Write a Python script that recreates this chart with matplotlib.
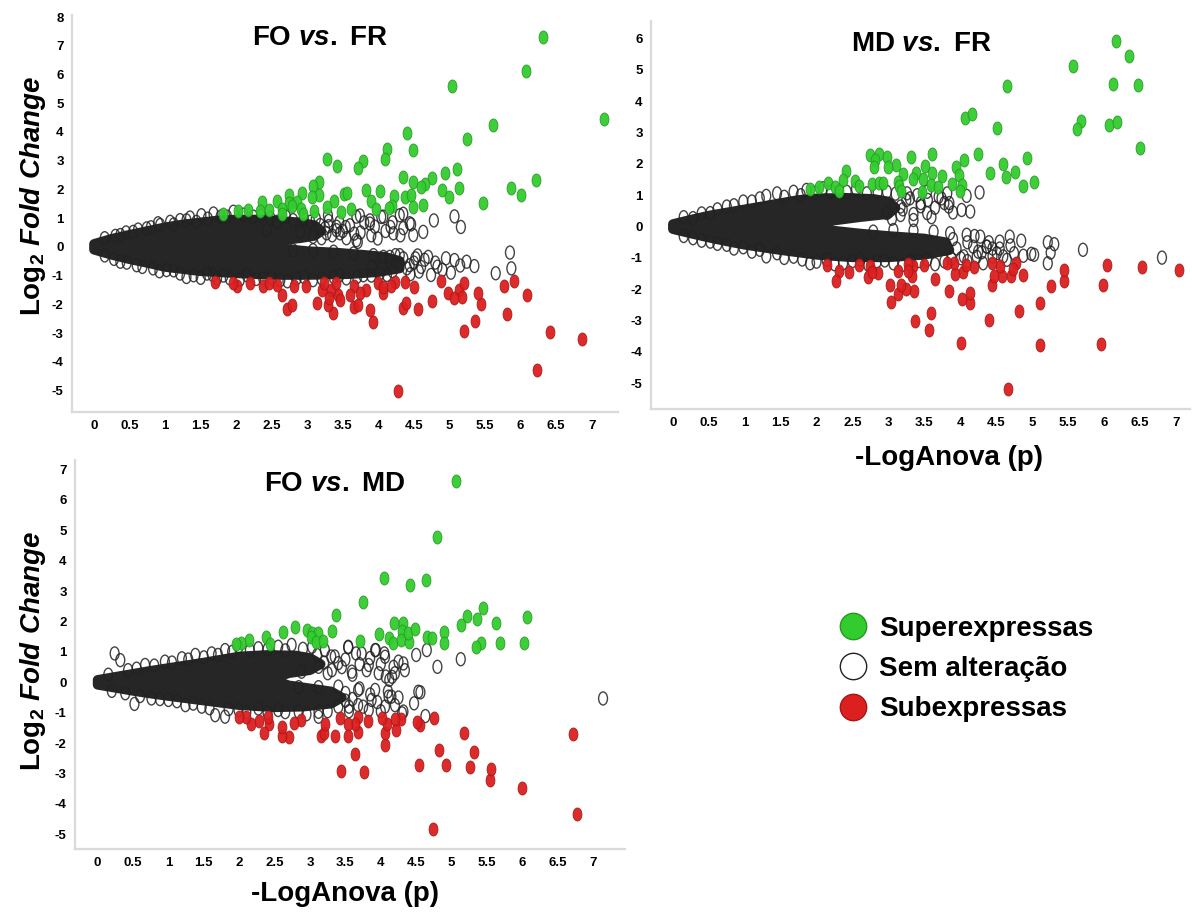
"""Volcano-style plots: -log ANOVA p vs log2 fold change for the three diet comparisons."""

import matplotlib
matplotlib.use("Agg")
import matplotlib.pyplot as plt
import matplotlib.ticker as ticker
from matplotlib.lines import Line2D
from matplotlib.markers import MarkerStyle
from matplotlib.path import Path
from matplotlib.transforms import Affine2D

plt.rcParams["font.family"] = ["Liberation Sans", "DejaVu Sans"]
plt.rcParams["axes.unicode_minus"] = False
plt.rcParams["mathtext.fontset"] = "custom"
plt.rcParams["mathtext.rm"] = "Liberation Sans:bold"
plt.rcParams["mathtext.bf"] = "Liberation Sans:bold"
plt.rcParams["mathtext.it"] = "Liberation Sans:italic:bold"
plt.rcParams["mathtext.bfit"] = "Liberation Sans:italic:bold"

# ---------------------------------------------------------------------------
# Data  (x = -log ANOVA p, y = log2 fold change)
# ---------------------------------------------------------------------------

# FO vs. FR
FO_FR_UP = [
    (6.31, 7.29), (6.07, 6.11), (5.03, 5.61), (7.18, 4.44), (5.61, 4.24), (4.40, 3.95),
    (5.24, 3.74), (4.48, 3.38), (4.12, 3.39), (4.09, 3.05), (3.28, 3.06), (3.42, 2.81),
    (3.78, 3.00), (3.71, 2.76), (5.10, 2.71), (4.93, 2.58), (4.76, 2.41), (4.35, 2.42),
    (6.22, 2.34), (3.16, 2.27), (3.08, 2.12), (4.48, 2.25), (4.66, 2.20), (4.60, 2.07),
    (5.13, 2.06), (4.89, 1.97), (5.86, 2.06), (4.02, 1.94), (3.82, 1.98), (4.22, 1.76),
    (4.38, 1.73), (4.46, 1.82), (6.00, 1.81), (4.99, 1.73), (3.52, 1.84), (3.56, 1.88),
    (3.38, 1.61), (3.17, 1.81), (3.06, 1.73), (2.92, 1.87), (2.74, 1.81), (2.58, 1.61),
    (2.36, 1.56), (2.86, 1.56), (2.74, 1.52), (3.89, 1.59), (5.47, 1.54), (4.63, 1.46),
    (4.48, 1.38), (4.19, 1.43), (4.15, 1.36), (3.62, 1.31), (3.96, 1.32), (3.28, 1.38),
    (3.09, 1.24), (2.91, 1.32), (2.79, 1.43), (2.64, 1.32), (2.46, 1.27), (2.34, 1.24),
    (2.16, 1.27), (2.03, 1.24), (1.81, 1.15), (3.48, 1.20), (2.94, 1.15), (2.64, 1.15),
]
FO_FR_DOWN = [
    (4.27, -5.03), (6.23, -4.29), (6.86, -3.20), (6.42, -2.96), (5.21, -2.94), (5.36, -2.59),
    (5.81, -2.34), (3.92, -2.60), (3.88, -2.19), (3.36, -2.30), (3.29, -2.02), (3.66, -2.10),
    (3.71, -2.04), (4.35, -2.14), (4.39, -1.96), (4.56, -2.17), (4.75, -1.90), (5.45, -2.00),
    (2.72, -2.15), (2.79, -2.02), (3.14, -1.94), (2.65, -1.67), (6.09, -1.67), (5.40, -1.61),
    (4.98, -1.60), (5.13, -1.50), (5.18, -1.74), (5.06, -1.79), (5.21, -1.27), (5.77, -1.36),
    (5.91, -1.18), (4.88, -1.19), (4.50, -1.41), (4.23, -1.24), (4.38, -1.21), (3.99, -1.27),
    (4.07, -1.61), (4.06, -1.41), (3.82, -1.52), (3.66, -1.38), (3.60, -1.67), (3.74, -1.61),
    (3.43, -1.67), (3.34, -1.50), (3.21, -1.50), (3.24, -1.27), (3.41, -1.27), (2.98, -1.36),
    (2.81, -1.35), (2.57, -1.32), (2.38, -1.36), (2.20, -1.27), (2.01, -1.36), (1.70, -1.23),
    (1.96, -1.27), (2.46, -1.27), (3.46, -1.84), (3.31, -1.79), (4.18, -1.38),
]
FO_FR_NS = [
    # sparse outer points
    (5.07, 1.06), (5.16, 0.69), (4.78, 0.92), (4.63, 0.52), (4.46, 0.78), (4.31, 0.40),
    (4.35, 1.15), (4.17, 0.69), (4.04, 1.04), (3.99, 0.29), (3.88, 0.92), (3.71, 0.17),
    (3.66, 0.46), (3.74, 1.09), (3.54, 0.69), (3.41, 0.58), (3.29, 1.09),
    (5.85, -0.20), (5.87, -0.75), (5.65, -0.92), (5.35, -0.67), (5.24, -0.52), (5.02, -0.90),
    (5.07, -0.46), (4.83, -0.69), (4.70, -0.35), (4.52, -0.40), (4.30, -0.58), (4.24, -0.29),
    (4.07, -0.35), (3.91, -0.69), (4.74, -0.98), (4.57, -0.86),
    # edge of the cloud
    (1.51, 1.10), (1.68, 1.16), (1.87, 1.05), (1.96, 1.22), (2.24, 1.05), (2.57, 0.87),
    (2.80, 0.93), (3.04, 0.87), (3.18, 0.76), (3.41, 0.70), (3.46, 0.47), (3.69, 0.23),
    (3.69, 1.05), (3.88, 0.81), (4.07, 1.05), (4.21, 0.47), (4.30, 1.10), (4.44, 0.82),
    (4.49, 0.41), (1.21, 0.93), (1.07, 0.87), (0.93, 0.76), (0.74, 0.64), (0.55, 0.52),
    (0.37, 0.41), (1.44, 0.87), (2.43, 0.58), (2.90, 0.52), (3.08, 0.35), (3.27, 0.47),
    (0.37, -0.52), (0.60, -0.64), (0.83, -0.75), (1.02, -0.81), (1.21, -0.93), (1.40, -0.99),
    (1.59, -0.93), (1.73, -1.10), (1.91, -1.10), (2.15, -0.99), (2.38, -1.10), (2.62, -1.16),
    (2.85, -1.10), (3.08, -1.16), (3.37, -1.05), (3.55, -1.10), (3.79, -0.99), (4.02, -0.93),
    (4.16, -0.35), (4.30, -0.29), (4.44, -0.64), (3.93, -0.29), (3.65, -0.23), (3.37, -0.17),
    (3.08, -0.12), (2.80, -0.12),
    (0.15, 0.30), (0.30, 0.38), (0.45, 0.50), (0.62, 0.60), (0.80, 0.68), (0.90, 0.82),
    (1.12, 0.78), (1.30, 0.92), (1.35, 1.02), (1.60, 0.98), (1.78, 1.05), (2.10, 1.12),
    (2.35, 1.08), (2.48, 1.00), (2.70, 1.05), (2.95, 0.98), (3.12, 0.98), (3.30, 0.72),
    (0.15, -0.30), (0.28, -0.42), (0.46, -0.55), (0.68, -0.70), (0.92, -0.85), (1.12, -0.82),
    (1.30, -1.05), (1.50, -1.08), (1.67, -0.98), (1.82, -1.00), (2.05, -1.15), (2.28, -1.12),
    (2.50, -1.08), (2.72, -1.20), (2.95, -1.05), (3.20, -1.10), (3.45, -1.00), (3.70, -1.05),
    (3.90, -1.00), (4.12, -0.98), (4.45, -0.95), (4.55, -0.30),
    # thinner parts of the two bands
    (3.30, 0.90), (3.35, 0.40), (3.45, 0.85), (3.50, 0.55), (3.55, 0.30), (3.60, 0.75),
    (3.75, 0.50), (3.80, 0.85), (3.90, 0.40), (3.95, 0.70), (4.10, 0.55), (4.20, 0.85),
    (4.35, 0.65), (3.25, 0.65), (3.20, 0.30),
    (4.35, -0.40), (4.40, -0.75), (4.50, -0.55), (4.60, -0.70), (4.65, -0.45), (4.80, -0.55),
    (4.90, -0.80), (4.95, -0.40), (5.15, -0.65), (4.20, -0.85), (4.25, -0.55), (4.05, -0.70),
]
# outline of the saturated, fully overlapped part of the cloud
FO_FR_CORE = [
    (0.0, 0.10), (0.25, 0.28), (0.5, 0.42), (0.75, 0.55), (1.0, 0.68), (1.25, 0.78),
    (1.5, 0.85), (1.75, 0.92), (2.0, 0.95), (2.3, 0.95), (2.6, 0.90), (2.9, 0.85),
    (3.1, 0.75), (3.2, 0.55), (3.1, 0.38), (2.9, 0.30), (2.6, 0.22), (2.4, 0.15),
    (2.6, -0.05), (3.0, -0.15), (3.4, -0.20), (3.8, -0.28), (4.1, -0.35), (4.3, -0.50),
    (4.3, -0.75), (4.0, -0.88), (3.6, -0.95), (3.0, -0.98), (2.5, -0.98), (2.0, -0.92),
    (1.5, -0.85), (1.0, -0.70), (0.75, -0.56), (0.5, -0.43), (0.25, -0.28), (0.0, -0.10),
]

# MD vs. FR
MD_FR_UP = [
    (6.17, 5.92), (6.35, 5.44), (5.57, 5.14), (4.65, 4.49), (6.13, 4.56), (6.47, 4.51),
    (4.07, 3.48), (4.17, 3.58), (4.51, 3.15), (5.68, 3.37), (5.62, 3.10), (6.07, 3.23),
    (6.19, 3.34), (6.51, 2.52), (4.25, 2.33), (3.61, 2.31), (3.32, 2.23), (2.75, 2.28),
    (2.87, 2.31), (2.98, 2.23), (2.81, 2.14), (4.06, 2.14), (4.93, 2.20), (4.59, 1.99),
    (3.10, 1.96), (2.99, 1.91), (2.80, 1.91), (3.51, 1.94), (3.94, 1.89), (2.41, 1.78),
    (4.77, 1.75), (4.41, 1.72), (3.38, 1.72), (3.20, 1.68), (3.61, 1.72), (3.74, 1.61),
    (3.99, 1.64), (4.64, 1.57), (2.37, 1.48), (2.53, 1.46), (3.14, 1.43), (3.35, 1.52),
    (3.48, 1.51), (5.03, 1.43), (2.16, 1.40), (2.77, 1.36), (2.87, 1.40), (2.93, 1.40),
    (2.59, 1.29), (3.15, 1.29), (3.59, 1.33), (3.69, 1.27), (3.89, 1.36), (4.02, 1.33),
    (4.87, 1.29), (2.26, 1.25), (2.03, 1.27), (1.91, 1.20), (2.31, 1.15), (4.00, 1.15),
    (3.18, 1.15), (3.47, 1.11),
]
MD_FR_DOWN = [
    (4.67, -5.18), (4.01, -3.71), (5.11, -3.79), (5.96, -3.76), (3.57, -3.29), (3.37, -3.02),
    (3.59, -2.76), (4.40, -2.97), (4.82, -2.70), (5.11, -2.44), (3.04, -2.39), (3.13, -2.15),
    (4.03, -2.30), (4.14, -2.44), (4.13, -2.12), (3.85, -2.05), (3.36, -2.04), (3.25, -1.99),
    (3.18, -1.86), (3.02, -1.86), (3.65, -1.68), (4.45, -1.86), (5.26, -1.91), (5.45, -1.75),
    (5.99, -1.86), (6.53, -1.30), (7.04, -1.38), (6.04, -1.22), (5.45, -1.40), (4.87, -1.55),
    (4.71, -1.59), (4.58, -1.59), (4.47, -1.57), (4.55, -1.27), (4.45, -1.17), (4.78, -1.17),
    (4.73, -1.36), (4.19, -1.30), (4.04, -1.46), (3.93, -1.51), (4.08, -1.22), (3.91, -1.17),
    (3.81, -1.17), (3.49, -1.22), (3.34, -1.27), (3.28, -1.19), (3.33, -1.59), (3.28, -1.43),
    (3.13, -1.43), (2.85, -1.48), (2.75, -1.27), (2.72, -1.62), (2.59, -1.22), (2.45, -1.46),
    (2.31, -1.43), (2.27, -1.75), (2.14, -1.22), (2.77, -1.46),
]
MD_FR_NS = [
    (6.81, -0.99), (5.71, -0.74), (5.31, -0.56), (5.22, -0.50), (5.26, -0.83), (5.22, -1.17),
    (5.03, -0.90), (4.99, -0.87), (4.88, -0.93), (4.69, -0.32), (4.55, -0.48), (4.60, -0.95),
    (4.37, -0.64), (4.32, -1.17), (4.14, 0.48), (4.02, 0.53), (4.27, 1.09), (4.09, 0.98),
    (3.84, 0.64), (3.74, 0.90),
    (1.45, 1.06), (1.68, 1.11), (1.86, 1.17), (2.09, 1.22), (2.42, 1.11), (2.70, 1.06),
    (2.98, 1.11), (3.26, 1.06), (3.54, 1.11), (3.82, 1.06), (3.78, 0.75), (3.54, 0.43),
    (3.35, 0.21), (3.17, 0.37), (3.45, 0.75), (3.17, 0.64), (2.98, 0.43), (1.21, 0.90),
    (0.98, 0.80), (0.75, 0.64), (0.52, 0.43), (0.28, 0.27),
    (0.28, -0.37), (0.52, -0.48), (0.75, -0.58), (0.98, -0.66), (1.21, -0.74), (1.45, -0.85),
    (1.68, -0.96), (1.91, -1.17), (2.14, -1.06), (2.37, -1.17), (2.61, -1.06), (2.84, -1.11),
    (3.07, -1.17), (3.31, -1.11), (3.54, -1.06), (3.78, -1.11), (4.01, -1.01), (4.23, -0.96),
    (4.37, -0.64), (4.28, -0.32), (4.09, -0.26), (3.86, -0.21), (3.63, -0.16), (3.35, -0.13),
    (3.07, -0.11), (2.79, -0.16), (4.51, -0.85), (4.65, -1.06), (4.18, -0.64),
    (0.15, 0.30), (0.40, 0.42), (0.62, 0.55), (0.85, 0.68), (1.10, 0.80), (1.30, 0.98),
    (1.55, 0.95), (1.78, 1.00), (1.98, 1.08), (2.20, 1.12), (2.55, 1.20), (2.85, 1.10),
    (3.10, 1.05), (3.30, 0.90), (3.05, 0.25),
    (0.15, -0.30), (0.40, -0.45), (0.62, -0.55), (0.85, -0.70), (1.10, -0.80), (1.30, -0.95),
    (1.55, -1.00), (1.80, -1.05), (2.00, -1.12), (2.25, -1.20), (2.50, -1.10), (2.72, -1.22),
    (2.95, -1.08), (3.20, -1.22), (3.42, -1.10), (3.65, -1.20), (3.88, -1.02), (4.10, -1.10),
    (4.30, -0.82), (4.45, -0.70),
    (3.20, 0.55), (3.25, 0.85), (3.35, 0.40), (3.40, 1.00), (3.45, 0.65), (3.55, 0.85),
    (3.60, 0.30), (3.65, 0.60), (3.70, 0.95), (3.85, 0.75), (3.90, 0.45),
    (3.90, -0.40), (3.95, -0.70), (4.05, -0.95), (4.10, -0.50), (4.20, -0.30), (4.25, -0.80),
    (4.40, -0.50), (4.45, -0.95), (4.55, -0.70), (4.70, -0.60), (4.75, -0.85), (4.85, -0.45),
]
MD_FR_CORE = [
    (0.0, 0.08), (0.25, 0.22), (0.5, 0.35), (0.75, 0.45), (1.0, 0.55), (1.25, 0.65),
    (1.5, 0.75), (1.75, 0.85), (2.0, 0.90), (2.4, 0.92), (2.8, 0.88), (3.0, 0.80),
    (3.1, 0.60), (3.0, 0.40), (2.6, 0.30), (2.2, 0.18), (1.95, 0.05), (2.2, -0.12),
    (2.6, -0.22), (3.0, -0.30), (3.5, -0.38), (3.8, -0.50), (3.85, -0.75), (3.5, -0.90),
    (3.0, -0.98), (2.5, -0.98), (2.0, -0.90), (1.5, -0.75), (1.0, -0.58), (0.75, -0.47),
    (0.5, -0.35), (0.25, -0.22), (0.0, -0.08),
]

# FO vs. MD
FO_MD_UP = [
    (5.06, 6.63), (4.79, 4.79), (4.04, 3.44), (4.64, 3.38), (4.41, 3.20), (3.75, 2.63),
    (3.37, 2.23), (5.45, 2.43), (5.22, 2.18), (6.06, 2.14), (5.14, 1.88), (5.36, 2.07),
    (5.63, 1.94), (2.79, 1.83), (2.62, 1.65), (2.38, 1.50), (2.44, 1.26), (2.96, 1.72),
    (3.03, 1.63), (3.11, 1.63), (3.01, 1.50), (3.09, 1.31), (3.19, 1.36), (3.31, 1.69),
    (3.70, 1.37), (3.97, 1.58), (4.18, 1.94), (4.32, 1.94), (4.30, 1.70), (4.12, 1.47),
    (4.17, 1.30), (4.28, 1.39), (4.40, 1.34), (4.39, 1.63), (4.48, 1.74), (4.65, 1.48),
    (4.72, 1.47), (4.90, 1.66), (4.90, 1.30), (5.69, 1.30), (5.41, 1.28), (5.35, 1.15),
    (6.02, 1.28), (2.14, 1.39), (2.03, 1.30), (1.96, 1.26),
]
FO_MD_DOWN = [
    (4.74, -4.83), (6.77, -4.34), (5.99, -3.46), (5.54, -3.21), (5.56, -2.86), (5.26, -2.79),
    (4.92, -2.72), (4.54, -2.72), (4.82, -2.22), (5.32, -2.28), (3.44, -2.91), (3.76, -2.96),
    (3.63, -2.37), (4.06, -2.06), (6.71, -1.70), (5.17, -1.68), (4.06, -1.65), (4.21, -1.57),
    (4.56, -1.40), (4.51, -1.29), (4.75, -1.18), (4.29, -1.22), (4.20, -1.22), (4.09, -1.37),
    (4.02, -1.18), (3.82, -1.26), (3.68, -1.62), (3.68, -1.13), (3.64, -1.37), (3.54, -1.37),
    (3.43, -1.18), (3.53, -1.76), (3.36, -1.76), (3.16, -1.75), (3.20, -1.68), (3.21, -1.37),
    (2.87, -1.24), (2.78, -1.33), (2.70, -1.79), (2.60, -1.75), (2.60, -1.46), (2.42, -1.37),
    (2.41, -1.13), (2.35, -1.65), (2.28, -1.26), (2.17, -1.37), (2.09, -1.13), (2.00, -1.13),
]
FO_MD_NS = [
    (7.14, -0.53), (5.13, 0.76), (4.80, 0.51), (4.65, 1.06), (4.50, 0.90), (4.56, -0.33),
    (4.47, -0.69), (4.63, -1.11), (4.32, -0.96), (4.15, -0.47), (4.12, 0.08), (4.18, 0.51),
    (4.32, 0.62), (4.07, 0.19), (3.93, 1.06), (3.54, 1.15), (0.24, 0.95), (0.32, 0.73),
    (0.52, -0.71),
    (1.80, 1.06), (1.99, 1.17), (2.27, 1.12), (2.55, 1.17), (2.74, 1.23), (3.03, 1.17),
    (3.21, 1.06), (3.54, 1.17), (3.73, 0.95), (3.92, 1.06), (4.06, 0.84), (4.25, 0.68),
    (4.34, 0.40), (4.16, 0.18), (3.97, 0.30), (3.83, 0.57), (3.59, 0.35), (3.40, 0.63),
    (3.31, 0.40), (3.12, 0.51), (2.88, 0.35), (1.61, 0.95), (1.38, 0.90), (1.19, 0.79),
    (0.95, 0.68), (0.67, 0.57), (0.43, 0.40),
    (0.39, -0.36), (0.76, -0.53), (1.00, -0.58), (1.24, -0.75), (1.47, -0.80), (1.66, -1.08),
    (1.80, -1.13), (1.99, -0.91), (2.27, -0.86), (2.55, -0.91), (2.84, -0.97), (3.12, -0.97),
    (3.40, -0.80), (3.68, -0.75), (3.83, -0.91), (3.87, -0.58), (3.68, -0.25), (3.92, -0.25),
    (4.11, -0.47), (4.30, -1.02), (4.53, -0.31), (3.40, -0.14), (3.12, -0.16), (2.84, -0.16),
    (3.12, -1.13), (4.06, -0.80),
    (0.15, 0.25), (0.55, 0.45), (0.80, 0.55), (1.05, 0.65), (1.28, 0.75), (1.50, 0.82),
    (1.70, 0.90), (1.90, 1.00), (2.15, 1.05), (2.40, 1.08), (2.65, 1.05), (2.90, 1.10),
    (3.10, 0.90), (3.30, 0.85),
    (0.20, -0.28), (0.60, -0.45), (0.88, -0.55), (1.12, -0.62), (1.35, -0.70), (1.58, -0.85),
    (1.85, -0.88), (2.10, -0.98), (2.40, -1.00), (2.65, -0.98), (2.95, -1.05), (3.25, -0.95),
    (3.55, -0.80), (3.50, -0.60),
    (3.20, 0.65), (3.25, 0.30), (3.35, 0.85), (3.45, 0.50), (3.50, 0.75), (3.60, 0.25),
    (3.65, 0.95), (3.70, 0.60), (3.80, 0.40), (3.85, 0.80), (4.00, 0.60), (4.05, 0.95),
    (4.20, 0.30),
    (3.50, -0.35), (3.55, -0.95), (3.60, -0.55), (3.70, -0.20), (3.75, -0.80), (3.85, -0.40),
    (3.95, -0.65), (4.00, -0.95), (4.10, -0.30), (4.20, -0.75), (4.25, -0.50),
]
FO_MD_CORE = [
    (0.0, 0.08), (0.25, 0.18), (0.5, 0.28), (0.75, 0.38), (1.0, 0.47), (1.25, 0.56),
    (1.5, 0.65), (1.75, 0.75), (2.0, 0.85), (2.4, 0.90), (2.8, 0.88), (3.0, 0.80),
    (3.15, 0.60), (3.0, 0.40), (2.7, 0.30), (2.45, 0.10), (2.7, -0.10), (3.0, -0.20),
    (3.3, -0.30), (3.45, -0.50), (3.3, -0.70), (2.9, -0.80), (2.5, -0.82), (2.0, -0.75),
    (1.5, -0.60), (1.0, -0.45), (0.75, -0.37), (0.5, -0.28), (0.25, -0.18), (0.0, -0.08),
]

X_TICKS = [0, 0.5, 1, 1.5, 2, 2.5, 3, 3.5, 4, 4.5, 5, 5.5, 6, 6.5, 7]
LEGEND_LABELS = ["Superexpressas", "Sem alteração", "Subexpressas"]

# ---------------------------------------------------------------------------
# Style
# ---------------------------------------------------------------------------

GREEN, GREEN_EDGE = "#33cc2e", "#239a22"
RED, RED_EDGE = "#dc1f1f", "#a81616"
RING = "#222222"
CORE = "#262626"
SPINE = "#dadada"
TICK_FONT = ["Liberation Sans Narrow", "Liberation Sans", "DejaVu Sans"]

# points are drawn as upright ellipses, taller than wide
DOT = MarkerStyle(Path.unit_circle().transformed(Affine2D().scale(0.68, 1.0)))
DOT_SIZE = 88

W, H = 1192, 914


def px_rect(left, top, right, bottom):
    return [left / W, 1 - bottom / H, (right - left) / W, (bottom - top) / H]


def draw_panel(ax, core, ns, up, down, xlim, ylim, yticks):
    cx, cy = zip(*core)
    ax.fill(cx, cy, facecolor=CORE, edgecolor=CORE, linewidth=7,
            joinstyle="round", zorder=1)

    nx, ny = zip(*ns)
    ax.scatter(nx, ny, s=DOT_SIZE, marker=DOT, facecolors="none",
               edgecolors=RING, linewidths=1.0, alpha=0.85, zorder=2)

    ux, uy = zip(*up)
    ax.scatter(ux, uy, s=DOT_SIZE, marker=DOT, facecolors=GREEN,
               edgecolors=GREEN_EDGE, linewidths=0.6, alpha=0.95, zorder=3)

    dx, dy = zip(*down)
    ax.scatter(dx, dy, s=DOT_SIZE, marker=DOT, facecolors=RED,
               edgecolors=RED_EDGE, linewidths=0.6, alpha=0.95, zorder=3)

    ax.set_xlim(*xlim)
    ax.set_ylim(*ylim)
    ax.set_xticks(X_TICKS)
    ax.set_yticks(yticks)
    ax.xaxis.set_major_formatter(ticker.FuncFormatter(lambda v, _: f"{v:g}"))
    ax.tick_params(length=0, pad=6, labelsize=9.5)
    for lab in ax.get_xticklabels() + ax.get_yticklabels():
        lab.set_family(TICK_FONT)
        lab.set_fontweight("bold")
    for side in ("top", "right"):
        ax.spines[side].set_visible(False)
    for side in ("left", "bottom"):
        ax.spines[side].set_color(SPINE)
        ax.spines[side].set_linewidth(1.6)


def main():
    fig = plt.figure(figsize=(W / 100, H / 100), dpi=100)

    ax1 = fig.add_axes(px_rect(72, 15, 618, 412))
    draw_panel(ax1, FO_FR_CORE, FO_FR_NS, FO_FR_UP, FO_FR_DOWN,
               (-0.31, 7.37), (-5.75, 8.07), range(-5, 9))

    ax2 = fig.add_axes(px_rect(651, 21, 1190, 409))
    draw_panel(ax2, MD_FR_CORE, MD_FR_NS, MD_FR_UP, MD_FR_DOWN,
               (-0.305, 7.2), (-5.82, 6.56), range(-5, 7))

    ax3 = fig.add_axes(px_rect(75, 460, 625, 849))
    draw_panel(ax3, FO_MD_CORE, FO_MD_NS, FO_MD_UP, FO_MD_DOWN,
               (-0.32, 7.45), (-5.48, 7.31), range(-5, 8))

    # titles and axis labels
    fig.text(320 / W, 1 - 38 / H, r"FO $\mathit{vs.}$ FR", ha="center", va="center",
             fontsize=20, fontweight="bold")
    fig.text(921 / W, 1 - 44 / H, r"MD $\mathit{vs.}$ FR", ha="center", va="center",
             fontsize=20, fontweight="bold")
    fig.text(335 / W, 1 - 484 / H, r"FO $\mathit{vs.}$ MD", ha="center", va="center",
             fontsize=20, fontweight="bold")

    ylab = r"$\mathregular{Log_2}$ $\mathit{Fold\ Change}$"
    for yc in (196, 651):
        fig.text(33 / W, 1 - yc / H, ylab, rotation=90, ha="center", va="center",
                 fontsize=20, fontweight="bold")
    for xc, yc in ((949, 458), (345, 894)):
        fig.text(xc / W, 1 - yc / H, "-LogAnova (p)", ha="center", va="center",
                 fontsize=20, fontweight="bold")

    handles = [
        Line2D([], [], linestyle="none", marker="o", markersize=19,
               markerfacecolor=GREEN, markeredgecolor=GREEN_EDGE, markeredgewidth=1),
        Line2D([], [], linestyle="none", marker="o", markersize=19,
               markerfacecolor="white", markeredgecolor="#222222", markeredgewidth=1),
        Line2D([], [], linestyle="none", marker="o", markersize=19,
               markerfacecolor=RED, markeredgecolor=RED_EDGE, markeredgewidth=1),
    ]
    fig.legend(handles, LEGEND_LABELS, loc="center left",
               bbox_to_anchor=(822 / W, 1 - 669 / H), frameon=False,
               prop={"size": 20, "weight": "bold"}, handlelength=1.2,
               handletextpad=0.35, labelspacing=0.52, borderpad=0)

    fig.savefig("out.png", dpi=100)
    plt.close(fig)


if __name__ == "__main__":
    main()
